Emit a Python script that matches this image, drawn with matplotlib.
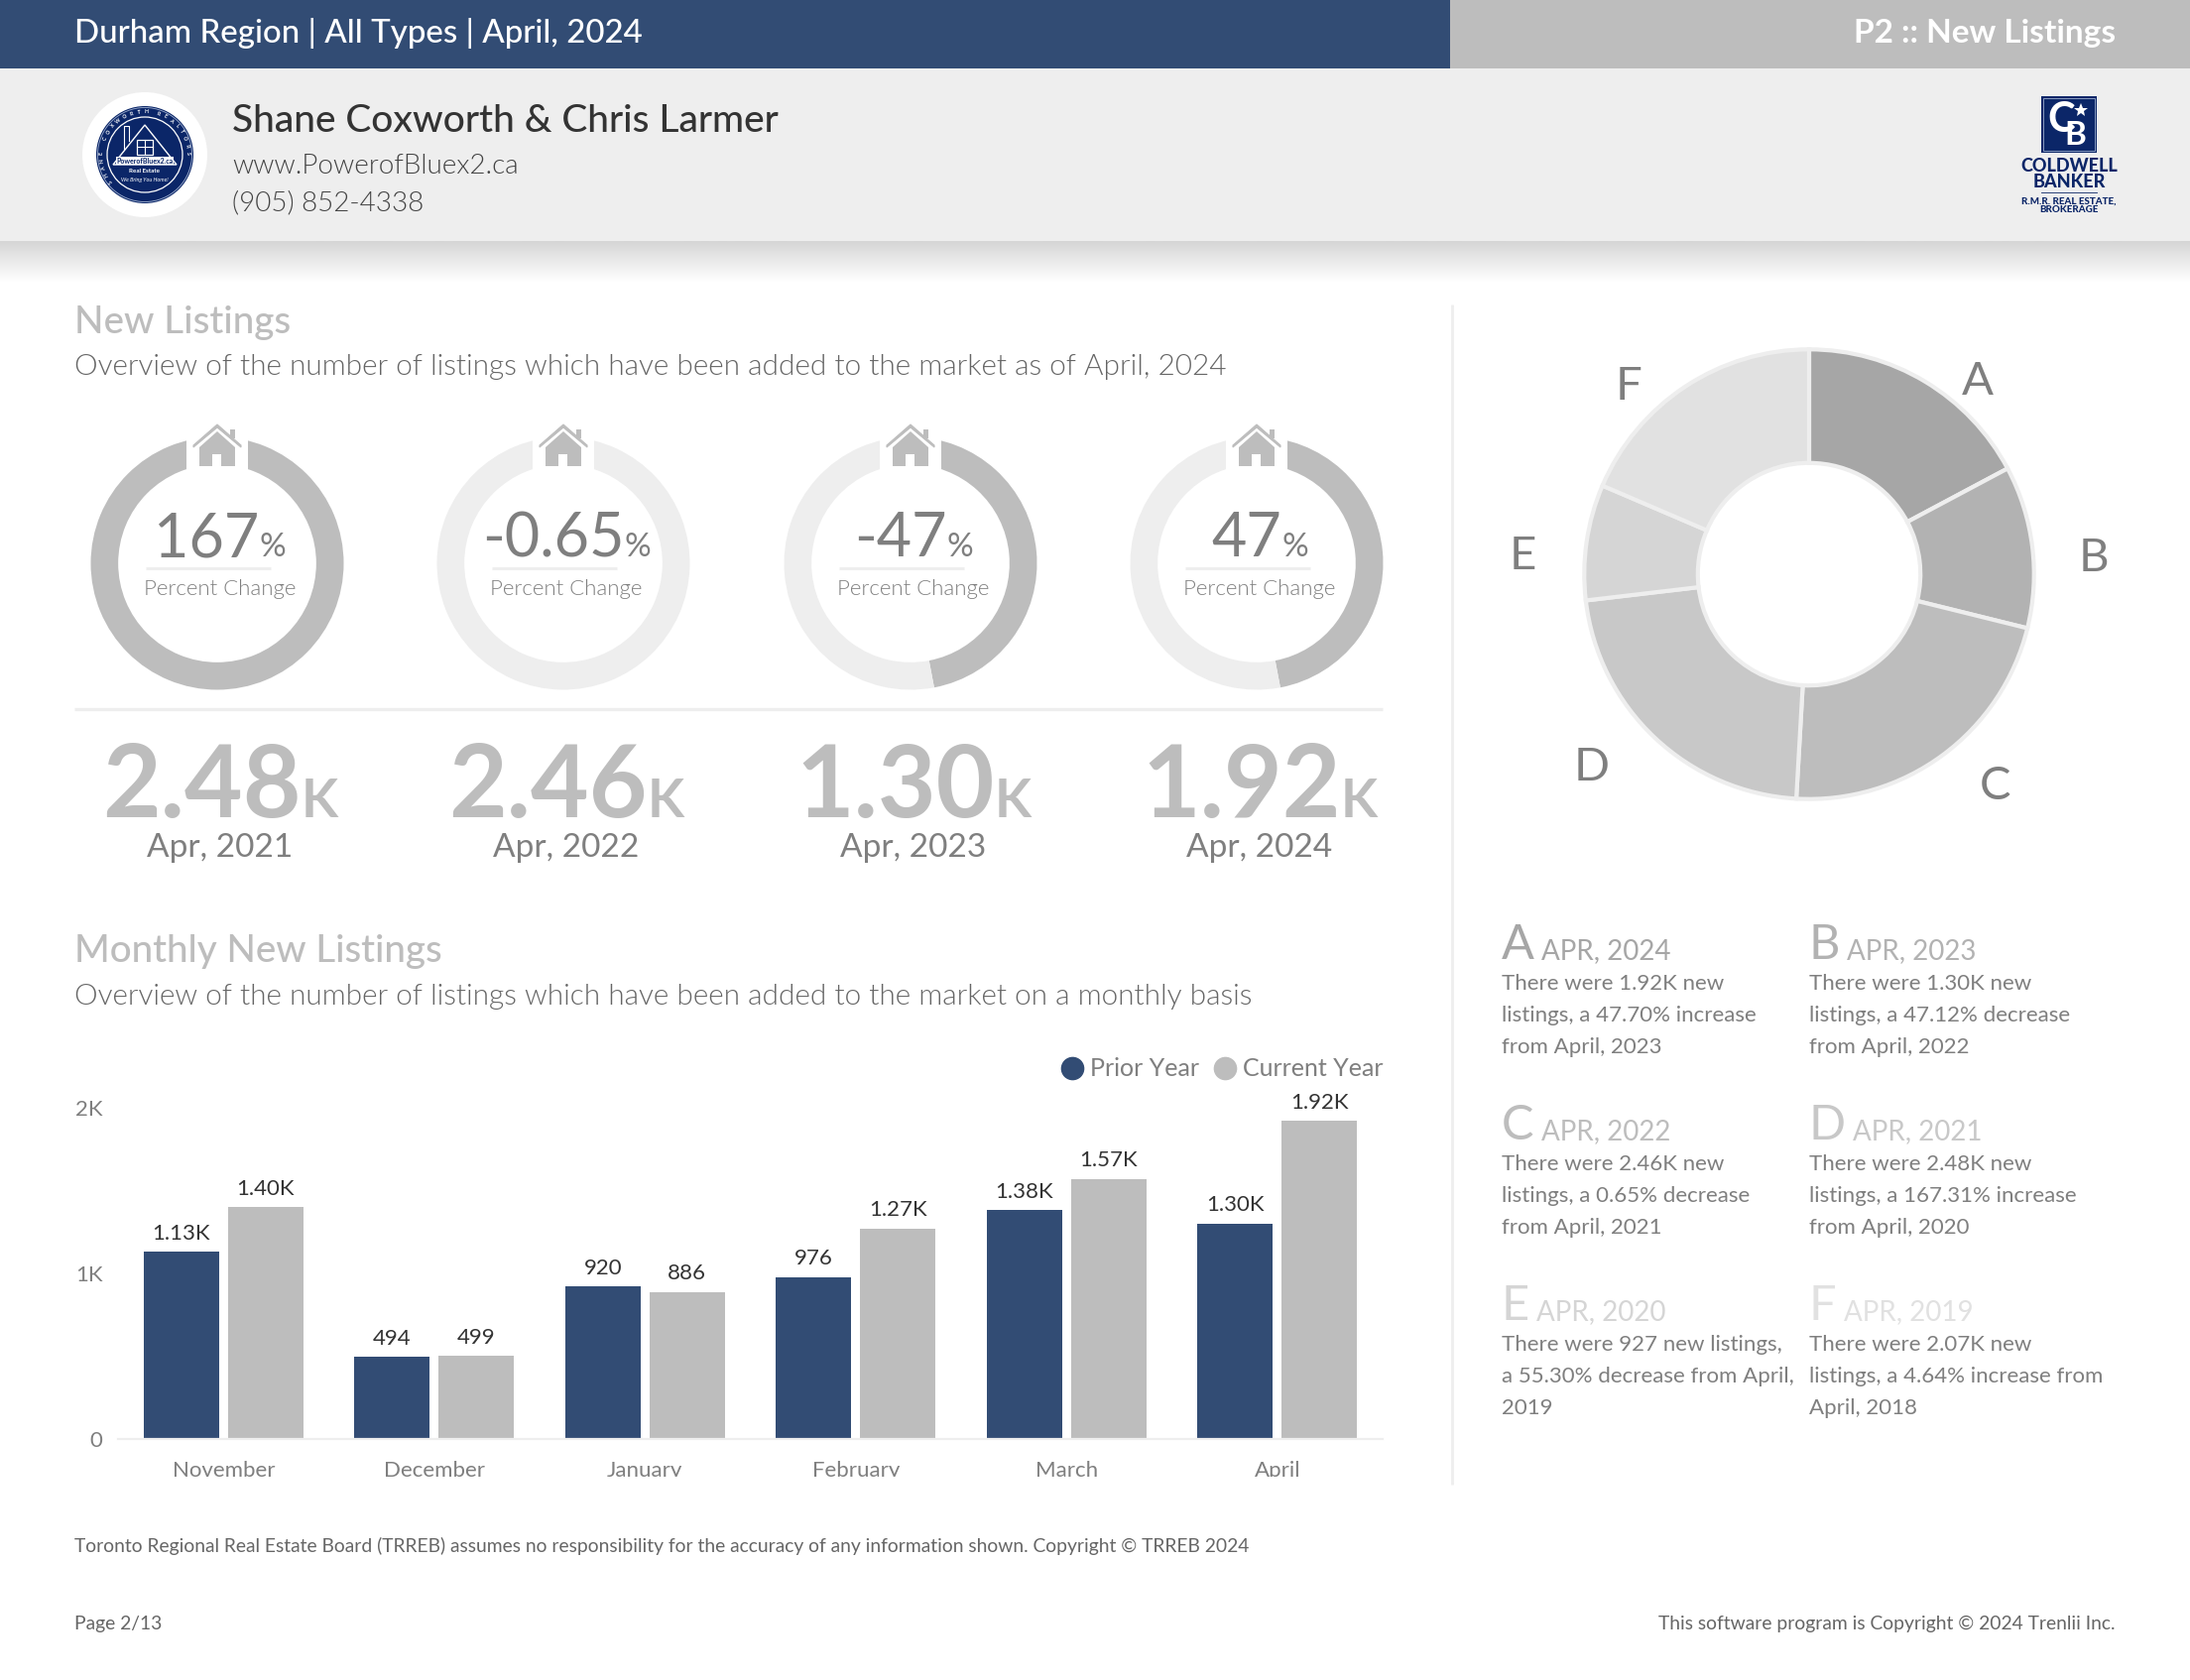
import numpy as np
import matplotlib
matplotlib.use('Agg')
import matplotlib.pyplot as plt
from matplotlib import font_manager as fm
from matplotlib.lines import Line2D
from matplotlib.patches import Rectangle, Circle, Polygon

plt.rcParams['font.family'] = ['Lato', 'DejaVu Sans']

W, H = 2208, 1694
NAVY = '#324c74'
GREY = '#bdbdbd'
PALE = '#eeeeee'
TEXT = '#7f7f7f'
LOGO = '#0b2668'

# --- data ---
months = ['November', 'December', 'January', 'February', 'March', 'April']
prior_year = [1130, 494, 920, 976, 1380, 1300]
current_year = [1400, 499, 886, 1270, 1570, 1920]

gauge_pct = ['167', '-0.65', '-47', '47']
gauge_fill = [100, 0.65, 47, 47]
gauge_totals = ['2.48', '2.46', '1.30', '1.92']
gauge_dates = ['Apr, 2021', 'Apr, 2022', 'Apr, 2023', 'Apr, 2024']

slice_names = ['A', 'B', 'C', 'D', 'E', 'F']
slice_values = [1920, 1300, 2460, 2480, 927, 2070]
slice_colors = ['#a6a6a6', '#b2b2b2', '#bdbdbd', '#c8c8c8', '#d5d5d5', '#e1e1e1']
slice_dates = ['APR, 2024', 'APR, 2023', 'APR, 2022', 'APR, 2021', 'APR, 2020', 'APR, 2019']
slice_notes = [
    ['There were 1.92K new', 'listings, a 47.70% increase', 'from April, 2023'],
    ['There were 1.30K new', 'listings, a 47.12% decrease', 'from April, 2022'],
    ['There were 2.46K new', 'listings, a 0.65% decrease', 'from April, 2021'],
    ['There were 2.48K new', 'listings, a 167.31% increase', 'from April, 2020'],
    ['There were 927 new listings,', 'a 55.30% decrease from April,', '2019'],
    ['There were 2.07K new', 'listings, a 4.64% increase from', 'April, 2018'],
]
slice_label_xy = [(1994, 398), (2111, 576), (2012, 806), (1605, 787), (1535, 574), (1642, 403)]

# weight 300 resolves to the hairline cut, so look for the light file itself
light_files = [f.fname for f in fm.fontManager.ttflist if f.fname.endswith('Lato-Light.ttf')]
LIGHT = fm.FontProperties(fname=light_files[0]) if light_files else None

fig = plt.figure(figsize=(W / 100, H / 100), dpi=100, facecolor='white')


def px_axes(x, y, w, h, **kw):
    return fig.add_axes([x / W, 1 - (y + h) / H, w / W, h / H], **kw)


# background and top layers both work in reference pixels
bg = px_axes(0, 0, W, H, zorder=0)
top = px_axes(0, 0, W, H, zorder=10)
top.patch.set_alpha(0)
for a in (bg, top):
    a.set_axis_off()

# header bands
bg.add_patch(Rectangle((0, 0), W, 69, color=NAVY, lw=0))
bg.add_patch(Rectangle((1462, 0), W - 1462, 69, color=GREY, lw=0))
bg.add_patch(Rectangle((0, 69), W, 174, color=PALE, lw=0))
shade = np.linspace(0.80, 1.0, 64) ** 0.8
bg.imshow(shade[:, None], extent=(0, W, 285, 243), cmap='gray', vmin=0, vmax=1, aspect='auto')
for a in (bg, top):
    a.set_xlim(0, W)
    a.set_ylim(H, 0)


def txt(x, y, s, size, color=TEXT, weight='normal', ha='left', **kw):
    if weight == 'light' and LIGHT is not None:
        fp = LIGHT.copy()
        fp.set_size(size)
        return top.text(x, y, s, fontproperties=fp, color=color, ha=ha, va='baseline', **kw)
    return top.text(x, y, s, fontsize=size, color=color, fontweight=weight, ha=ha, va='baseline', **kw)


def mixed_center(cx, y, parts):
    # several sizes on one baseline, centred as a group
    items = [txt(0, y, s, size, color, weight) for s, size, color, weight in parts]
    r = fig.canvas.get_renderer()
    widths = [t.get_window_extent(r).width for t in items]
    x = cx - sum(widths) / 2
    for t, w_ in zip(items, widths):
        t.set_x(x)
        x += w_


def arc_text(cx, cy, rad, s, start, step, size, color='white'):
    for i, ch in enumerate(s):
        ang = np.radians(start + i * step)
        top.text(cx + rad * np.sin(ang), cy - rad * np.cos(ang), ch, fontsize=size, color=color,
                 rotation=-np.degrees(ang), ha='center', va='center', fontweight='bold')


# header text
txt(75, 43, 'Durham Region | All Types | April, 2024', 23.8, 'white', 'medium')
txt(2133, 43, 'P2 :: New Listings', 24, 'white', 'bold', ha='right')
txt(234, 133, 'Shane Coxworth & Chris Larmer', 28, '#333333', 'medium')
txt(234, 175, 'www.PowerofBluex2.ca', 20, '#444444', 'light')
txt(234, 212, '(905) 852-4338', 20, '#444444', 'light')

# round logo
lx, ly = 146, 156
top.add_patch(Circle((lx, ly), 63, color='white', lw=0))
top.add_patch(Circle((lx, ly), 49, color=LOGO, lw=0))
top.add_patch(Circle((lx, ly), 47.5, fill=False, ec='#9fb0d0', lw=0.6))
top.add_patch(Circle((lx, ly), 38, fill=False, ec='white', lw=0.9))
top.add_patch(Polygon([(lx - 32, ly + 10), (lx, ly - 30), (lx + 32, ly + 10)], fill=False, ec='white', lw=1.0))
top.add_patch(Rectangle((lx - 8, ly - 15), 16, 15, fill=False, ec='white', lw=0.9))
top.plot([lx, lx], [ly - 15, ly], color='white', lw=0.8)
top.plot([lx - 8, lx + 8], [ly - 8, ly - 8], color='white', lw=0.8)
top.plot([lx - 21, lx - 21, lx - 16, lx - 16], [ly - 6, ly - 29, ly - 29, ly - 14], color='white', lw=0.8)
top.add_patch(Rectangle((lx - 29, ly + 2), 58, 8, color='white', lw=0))
txt(lx, ly + 9, 'PowerofBluex2.ca', 5, LOGO, 'bold', ha='center')
txt(lx, ly + 18, 'Real Estate', 4.5, 'white', 'bold', ha='center')
txt(lx, ly + 27, 'We Bring You Home!', 4, 'white', 'normal', ha='center', style='italic')
arc_text(lx, ly, 43.5, 'SHANE COXWORTH', 232, 10, 3.8)
arc_text(lx, ly, 43.5, 'REALTORS', 18, 10, 3.8)

# Coldwell Banker logo
top.add_patch(Rectangle((2058, 97), 56, 57, color=LOGO, lw=0))
top.add_patch(Rectangle((2060, 99), 52, 53, fill=False, ec='#9fb0d0', lw=0.6))
txt(2078, 133, 'C', 30, 'white', 'bold', ha='center')
txt(2092, 146, 'B', 24, 'white', 'bold', ha='center')
top.plot([2098], [111], marker='*', ms=10, color='white', mew=0)
txt(2086, 173, 'COLDWELL', 13, LOGO, 'black', ha='center')
txt(2086, 189, 'BANKER', 13, LOGO, 'black', ha='center')
top.plot([2058, 2114], [194, 194], color=LOGO, lw=0.6)
txt(2086, 206, 'R.M.R. REAL ESTATE,', 7, LOGO, 'black', ha='center')
txt(2086, 214, 'BROKERAGE', 7, LOGO, 'black', ha='center')

# section headings
txt(75, 336, 'New Listings', 27.8, GREY, 'medium')
txt(75, 378, 'Overview of the number of listings which have been added to the market as of April, 2024', 21.4, '#666666', 'light')
txt(75, 970, 'Monthly New Listings', 27.7, GREY, 'medium')
txt(75, 1013, 'Overview of the number of listings which have been added to the market on a monthly basis', 21.4, '#666666', 'light')

# dividers
top.plot([75, 1394], [715, 715], color=PALE, lw=2.4, solid_capstyle='butt')
top.plot([1464, 1464], [307, 1497], color=PALE, lw=2, solid_capstyle='butt')

# gauges
ring_x = [219, 568, 918, 1267]
ring_y, ring_r = 568, 127.5
for i, cx in enumerate(ring_x):
    ax = px_axes(cx - ring_r, ring_y - ring_r, 2 * ring_r, 2 * ring_r, zorder=2)
    fill = gauge_fill[i]
    ax.pie([fill, 100 - fill], colors=[GREY, PALE], startangle=90, counterclock=False, radius=1,
           wedgeprops=dict(width=0.217, lw=0))
    ax.set_xlim(-1, 1)
    ax.set_ylim(-1, 1)

    # gap at the top of the ring and the house in it
    top.add_patch(Rectangle((cx - 31, 425), 62, 58, color='white', lw=0))
    top.add_patch(Polygon([(cx - 24, 449), (cx, 428), (cx + 24, 449), (cx + 24, 451), (cx, 431), (cx - 24, 451)],
                          color=GREY, lw=0.8))
    top.add_patch(Rectangle((cx + 13, 433), 5, 9, color=GREY, lw=0))
    top.add_patch(Polygon([(cx - 18, 451), (cx, 435), (cx + 18, 451), (cx + 18, 470), (cx + 4, 470), (cx + 4, 458),
                           (cx - 5, 458), (cx - 5, 470), (cx - 18, 470)], color=GREY, lw=0))

    mixed_center(cx + 3, 561, [(gauge_pct[i], 44, TEXT, 'normal'), ('%', 24, TEXT, 'normal')])
    top.plot([cx - 72, cx + 54], [573, 573], color=PALE, lw=2.2, solid_capstyle='butt')
    txt(cx + 3, 600, 'Percent Change', 16, TEXT, 'light', ha='center')
    mixed_center(cx + 3, 824, [(gauge_totals[i], 73, GREY, 'bold'), ('K', 39, GREY, 'bold')])
    txt(cx + 3, 864, gauge_dates[i], 24, TEXT, 'normal', ha='center')

# big donut
dx, dy, dr = 1824, 579, 229
ax = px_axes(dx - dr, dy - dr, 2 * dr, 2 * dr, zorder=2)
ax.pie(slice_values, colors=slice_colors, startangle=90, counterclock=False, radius=0.99,
       wedgeprops=dict(width=0.5, lw=3, edgecolor=PALE))
ax.set_xlim(-1, 1)
ax.set_ylim(-1, 1)
for name, (x, y) in zip(slice_names, slice_label_xy):
    txt(x, y, name, 34, TEXT, 'normal', ha='center')

# notes under the donut
col_x = [1514, 1824]
row_y = [967, 1149, 1331]
for i, name in enumerate(slice_names):
    x = col_x[i % 2]
    y = row_y[i // 2]
    letter = txt(x, y, name, 35, slice_colors[i], 'normal')
    r = fig.canvas.get_renderer()
    txt(x + letter.get_window_extent(r).width + 7, y, slice_dates[i], 20, slice_colors[i], 'normal')
    for j, line in enumerate(slice_notes[i]):
        txt(x, y + 31 + j * 32, line, 16, TEXT, 'normal')

# monthly bars
ax = px_axes(119, 1117, 1275, 333.5, zorder=2)
pos = np.arange(len(months))
bars_prior = ax.bar(pos - 0.2, prior_year, width=0.358, color=NAVY, lw=0)
bars_current = ax.bar(pos + 0.2, current_year, width=0.358, color=GREY, lw=0)


def short(v):
    return f'{v / 1000:.2f}K' if v >= 1000 else str(v)


for b, vals in ((bars_prior, prior_year), (bars_current, current_year)):
    ax.bar_label(b, labels=[short(v) for v in vals], padding=6, fontsize=16, color='#333333')
ax.set_xlim(-0.5, 5.5)
ax.set_ylim(0, 2000)
ax.set_yticks([0, 1000, 2000], ['0', '1K', '2K'])
ax.set_xticks(pos, months)
ax.tick_params(length=0, labelsize=16, labelcolor=TEXT)
ax.tick_params(axis='x', pad=16)
ax.tick_params(axis='y', pad=11)
for s in ('top', 'left', 'right'):
    ax.spines[s].set_visible(False)
ax.spines['bottom'].set_color(PALE)
ax.spines['bottom'].set_linewidth(1.6)
ax.patch.set_alpha(0)
handles = [Line2D([], [], ls='', marker='o', ms=16, color=NAVY), Line2D([], [], ls='', marker='o', ms=16, color=GREY)]
ax.legend(handles, ['Prior Year', 'Current Year'], ncol=2, frameon=False, loc='lower right',
          bbox_to_anchor=(1.0, 1.083), fontsize=18, labelcolor=TEXT, handlelength=0.9, handletextpad=0.25,
          columnspacing=0.6, borderaxespad=0, borderpad=0)

# axis labels are cut off in the source
top.add_patch(Rectangle((100, 1489), 1300, 14, color='white', lw=0))

# footer
txt(75, 1565, 'Toronto Regional Real Estate Board (TRREB) assumes no responsibility for the accuracy of any information shown. Copyright © TRREB 2024', 13.9, '#666666')
txt(75, 1643, 'Page 2/13', 13.9, '#666666')
txt(2133, 1643, 'This software program is Copyright © 2024 Trenlii Inc.', 13.9, '#666666', ha='right')

fig.savefig('out.png', dpi=100)
